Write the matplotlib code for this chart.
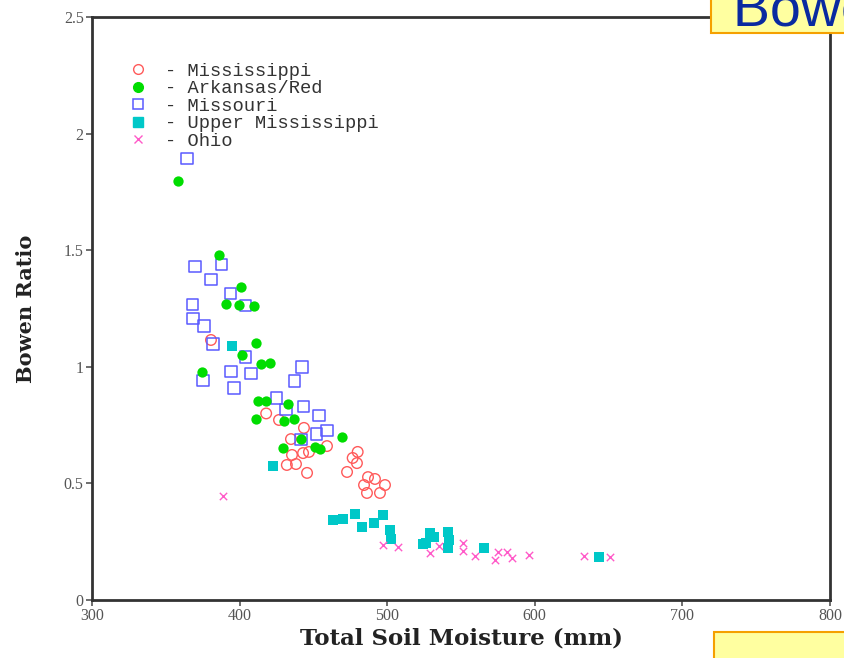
import matplotlib
matplotlib.use("Agg")
import matplotlib.pyplot as plt
from matplotlib.patches import Rectangle
from matplotlib.lines import Line2D

# ---------------- data ----------------
miss_x = [380.6, 418, 426.7, 443.6, 434.8, 459.2, 435.5, 443, 447, 432, 438.2, 445.7,
          480, 476.6, 479.5, 472.8, 487, 491.7, 484.3, 498.5, 486.3, 495.1]
miss_y = [1.115, 0.80, 0.772, 0.738, 0.690, 0.660, 0.622, 0.630, 0.635, 0.579, 0.583, 0.545,
          0.635, 0.609, 0.587, 0.549, 0.527, 0.519, 0.493, 0.493, 0.459, 0.459]

ark_x = [358.3, 386, 401, 390.8, 399.6, 409.8, 411, 401.6, 414.5, 420.6, 374.5, 412.5,
         417.9, 432.8, 411, 430, 436.9, 469.4, 441.6, 429.4, 451.1, 454.5]
ark_y = [1.797, 1.479, 1.342, 1.269, 1.265, 1.261, 1.102, 1.051, 1.012, 1.016, 0.978, 0.853,
         0.853, 0.840, 0.776, 0.768, 0.776, 0.699, 0.690, 0.652, 0.656, 0.648]

mo_x = [364.4, 369.8, 388, 380.6, 394, 367.8, 403.7, 368.4, 375.9, 382, 403.7, 442.3,
        375.2, 394.2, 407.7, 436.9, 396.2, 424.7, 431.4, 443, 453.8, 452.4, 459.2, 441.6]
mo_y = [1.895, 1.432, 1.437, 1.376, 1.316, 1.269, 1.261, 1.209, 1.175, 1.098, 1.042, 0.999,
        0.943, 0.978, 0.973, 0.939, 0.909, 0.866, 0.815, 0.828, 0.793, 0.712, 0.725, 0.690]

up_x = [394.9, 422.6, 463.3, 470, 478.2, 482.9, 491, 497.2, 501.9, 502.6, 526.3, 529,
        532, 524.5, 541.2, 541.9, 541.2, 565.6, 643.5]
up_y = [1.089, 0.575, 0.343, 0.347, 0.369, 0.313, 0.330, 0.364, 0.300, 0.262, 0.244, 0.287,
        0.270, 0.240, 0.292, 0.257, 0.223, 0.223, 0.184]

ohio_x = [388.8, 497.2, 507.3, 535.1, 529, 551.4, 551.4, 559.5, 575.1, 581.2, 573, 584.6,
          596, 633.3, 651]
ohio_y = [0.446, 0.236, 0.227, 0.232, 0.202, 0.244, 0.210, 0.189, 0.206, 0.206, 0.172, 0.180,
          0.193, 0.189, 0.184]

x_ticks = [300, 400, 500, 600, 700, 800]
y_ticks = [0, 0.5, 1, 1.5, 2, 2.5]
y_tick_labels = ["0", "0.5", "1", "1.5", "2", "2.5"]
series_names = ["Mississippi", "Arkansas/Red", "Missouri", "Upper Mississippi", "Ohio"]

# ---------------- figure ----------------
W, H = 844, 658
fig = plt.figure(figsize=(W / 100, H / 100), dpi=100)
ax = fig.add_axes([92 / W, 1 - 600 / H, (830 - 92) / W, (600 - 17) / H])

c_red = "#ff5a5a"
c_green = "#00dd00"
c_blue = "#5a5aff"
c_cyan = "#00c8c8"
c_pink = "#ff5ac8"

ax.scatter(miss_x, miss_y, s=58, marker="o", facecolors="none", edgecolors=c_red, linewidths=1.0, zorder=3)
ax.scatter(mo_x, mo_y, s=64, marker="s", facecolors="none", edgecolors=c_blue, linewidths=1.1, zorder=3)
ax.scatter(ark_x, ark_y, s=55, marker="o", color=c_green, linewidths=0, zorder=4)
ax.scatter(up_x, up_y, s=62, marker="s", color=c_cyan, linewidths=0, zorder=4)
ax.scatter(ohio_x, ohio_y, s=28, marker="x", color=c_pink, linewidths=1.0, zorder=5)

ax.set_xlim(300, 800)
ax.set_ylim(0, 2.5)
ax.set_xticks(x_ticks)
ax.set_xticklabels([str(t) for t in x_ticks])
ax.set_yticks(y_ticks)
ax.set_yticklabels(y_tick_labels)

for s in ax.spines.values():
    s.set_linewidth(2.0)
    s.set_color("#333333")
ax.tick_params(axis="both", direction="out", length=4, width=1.2, color="#555555",
               labelsize=11.5, labelcolor="#555555", pad=2)
for lab in ax.get_xticklabels() + ax.get_yticklabels():
    lab.set_family("Liberation Serif")

ax.set_xlabel("Total Soil Moisture (mm)", family="DejaVu Serif", fontweight="bold",
              fontsize=16.5, color="#222222", labelpad=2)
ax.set_ylabel("Bowen Ratio", family="DejaVu Serif", fontweight="bold",
              fontsize=15, color="#222222", labelpad=20)

# legend
handles = [
    Line2D([], [], linestyle="none", marker="o", markersize=7, markerfacecolor="none", markeredgecolor=c_red, markeredgewidth=1.0),
    Line2D([], [], linestyle="none", marker="o", markersize=7, markerfacecolor=c_green, markeredgecolor=c_green),
    Line2D([], [], linestyle="none", marker="s", markersize=7, markerfacecolor="none", markeredgecolor=c_blue, markeredgewidth=1.1),
    Line2D([], [], linestyle="none", marker="s", markersize=7, markerfacecolor=c_cyan, markeredgecolor=c_cyan),
    Line2D([], [], linestyle="none", marker="x", markersize=6, color=c_pink, markeredgewidth=1.0),
]
labels = ["- " + n for n in series_names]
leg = ax.legend(handles, labels, loc="upper left", bbox_to_anchor=(0.0496, 0.922), frameon=False,
                prop={"family": "Liberation Mono", "size": 13.5}, handlelength=1.0,
                handletextpad=0.92, labelspacing=0.02, borderpad=0, borderaxespad=0)
for t in leg.get_texts():
    t.set_color("#333333")

# slide artefacts: yellow boxes at the right edge
fig.add_artist(Rectangle((711 / W, 1 - 33 / H), (W - 711 + 5) / W, 40 / H, transform=fig.transFigure,
                         facecolor="#ffffa0", edgecolor="#f5a000", linewidth=1.5, zorder=10))
fig.text(733 / W, 1 - 26 / H, "Bowen Ratio", fontsize=40, color="#0a2aa0", family="Liberation Sans",
         zorder=11, va="baseline", ha="left")
fig.add_artist(Rectangle((714 / W, -5 / H), (W - 714 + 5) / W, (26 + 5) / H, transform=fig.transFigure,
                         facecolor="#ffffa0", edgecolor="#f5a000", linewidth=1.5, zorder=10))

fig.savefig("out.png", dpi=100)
